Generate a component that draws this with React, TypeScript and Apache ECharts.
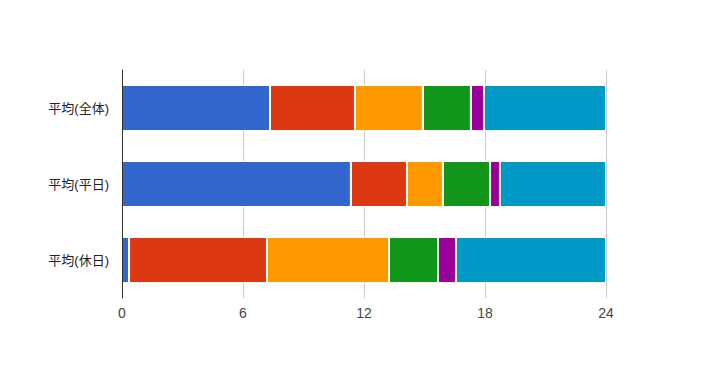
import React, { useEffect, useRef } from "react";
import * as echarts from "echarts";

const categories = ["平均(全体)", "平均(平日)", "平均(休日)"];
const seriesColors = ["#3366cc", "#dc3912", "#ff9900", "#109618", "#990099", "#0099c6"];
const s1 = [7.34, 11.35, 0.35];
const s2 = [4.21, 2.78, 6.84];
const s3 = [3.37, 1.78, 6.05];
const s4 = [2.38, 2.34, 2.43];
const s5 = [0.65, 0.49, 0.89];
const s6 = [6.05, 5.26, 7.44];
const seriesValues = [s1, s2, s3, s4, s5, s6];
const xTicks = [0, 6, 12, 18, 24];

export default function App() {
  const ref = useRef<HTMLDivElement>(null);
  useEffect(() => {
    if (!ref.current) return;
    const chart = echarts.init(ref.current, null, { renderer: "svg" });
    chart.setOption({
      animation: false,
      backgroundColor: "#ffffff",
      grid: { left: 114, right: 113, top: 62, bottom: 61 },
      xAxis: {
        type: "value",
        min: xTicks[0],
        max: xTicks[xTicks.length - 1],
        interval: 6,
        axisLine: { show: false },
        axisTick: { show: false },
        splitLine: { show: true, lineStyle: { color: "#cccccc", width: 1 } },
        axisLabel: {
          color: "#444444",
          fontSize: 14,
          fontFamily: "Arial, 'Liberation Sans', sans-serif",
          margin: 8,
        },
      },
      yAxis: {
        type: "category",
        data: categories,
        inverse: true,
        z: 5,
        axisLine: { show: true, lineStyle: { color: "#333333", width: 1 } },
        axisTick: { show: false },
        splitLine: { show: false },
        axisLabel: {
          color: "#222222",
          fontSize: 13,
          fontFamily: "Arial, 'Noto Sans CJK JP', sans-serif",
          margin: 13,
        },
      },
      series: seriesValues.map((vals, i) => ({
        type: "bar",
        stack: "total",
        data: vals,
        barWidth: 46,
        z: 2,
        itemStyle: { color: seriesColors[i], borderColor: "#ffffff", borderWidth: 1 },
        emphasis: { disabled: true },
      })),
    });
    return () => chart.dispose();
  }, []);
  return <div ref={ref} style={{ width: 711, height: 351 }} />;
}
